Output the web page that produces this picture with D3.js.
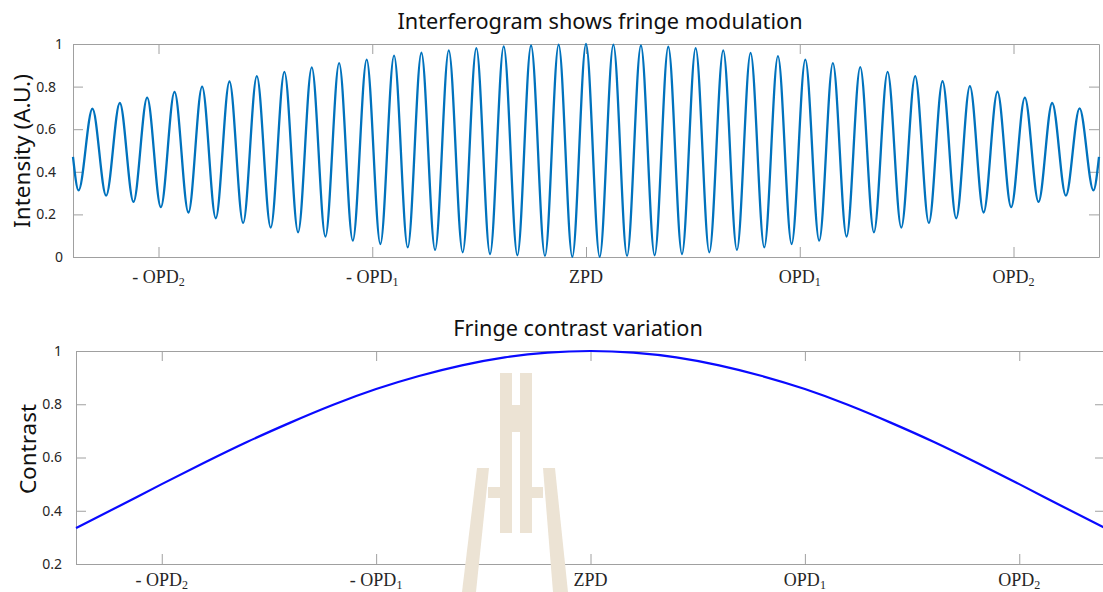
<!DOCTYPE html>
<html>
<head>
<meta charset="utf-8">
<script src="https://cdn.jsdelivr.net/npm/d3@7"></script>
<style>
  html, body { margin: 0; padding: 0; background: #fff; }
  svg { display: block; }
</style>
</head>
<body>
<svg id="chart" width="1103" height="592"></svg>
<script>
// ---------------- data ----------------
// x axis in OPD units: ZPD = 0, OPD1 = 1, OPD2 = 2
const xTickValues = [-2, -1, 0, 1, 2];
const xTickMain = ["- OPD", "- OPD", "ZPD", "OPD", "OPD"];
const xTickSub = ["2", "1", "", "1", "2"];

const topYTicks = [0, 0.2, 0.4, 0.6, 0.8, 1];
const bottomYTicks = [0.2, 0.4, 0.6, 0.8, 1];

// interferogram: fringe maxima
const peakX = [-2.309,-2.181,-2.053,-1.925,-1.796,-1.668,-1.540,-1.411,-1.283,-1.155,-1.026,-0.898,-0.770,-0.642,-0.513,-0.385,-0.257,-0.128,0,
               0.128,0.257,0.385,0.513,0.642,0.770,0.898,1.026,1.155,1.283,1.411,1.540,1.668,1.796,1.925,2.053,2.181,2.309];
const peakY = [0.696,0.723,0.748,0.775,0.800,0.824,0.849,0.869,0.890,0.910,0.927,0.945,0.959,0.970,0.981,0.989,0.993,0.997,1.000,
               0.997,0.993,0.987,0.981,0.970,0.958,0.943,0.927,0.910,0.891,0.869,0.849,0.825,0.802,0.776,0.748,0.723,0.698];
// interferogram: fringe minima
const troughX = [-2.374,-2.245,-2.117,-1.989,-1.860,-1.732,-1.604,-1.475,-1.347,-1.219,-1.091,-0.962,-0.834,-0.706,-0.577,-0.449,-0.321,-0.192,-0.064,
                 0.064,0.192,0.321,0.449,0.577,0.706,0.834,0.962,1.091,1.219,1.347,1.475,1.604,1.732,1.860,1.989,2.117,2.245,2.374];
const troughY = [0.313,0.288,0.259,0.234,0.209,0.182,0.160,0.138,0.116,0.096,0.077,0.061,0.045,0.033,0.022,0.014,0.008,0.005,0.001,
                 0.001,0.005,0.008,0.014,0.022,0.033,0.045,0.061,0.077,0.096,0.116,0.138,0.160,0.182,0.209,0.234,0.259,0.288,0.313];
// interferogram values at the two plot edges
const edgeX = [-2.4, 2.4];
const edgeY = [0.47, 0.47];

// fringe contrast
const contrastX = [-2.4,-2.2,-2.0,-1.8,-1.6,-1.4,-1.2,-1.0,-0.8,-0.6,-0.4,-0.2,0,0.2,0.4,0.6,0.8,1.0,1.2,1.4,1.6,1.8,2.0,2.2,2.4];
const contrastY = [0.335,0.417,0.500,0.581,0.659,0.731,0.798,0.857,0.906,0.946,0.976,0.994,1.0,
                   0.994,0.976,0.946,0.906,0.857,0.798,0.731,0.659,0.581,0.500,0.417,0.335];

// ---------------- drawing ----------------
const svg = d3.select("#chart");
const AXIS_COLOR = "#a0a0a0";
const TEXT_COLOR = "#262626";
const SANS = "'Noto Sans', 'Open Sans', sans-serif";
const SERIF = "'Liberation Serif', 'DejaVu Serif', serif";

function panel(cfg) {
  const x = d3.scaleLinear().domain([-2.4, 2.4]).range([cfg.left, cfg.right]);
  const y = d3.scaleLinear().domain(cfg.yDomain).range([cfg.bottom, cfg.top]);
  const g = svg.append("g");

  const axStyle = sel => {
    sel.selectAll(".domain").attr("stroke", AXIS_COLOR);
    sel.selectAll(".tick line").attr("stroke", AXIS_COLOR);
    sel.selectAll(".tick text").remove();
  };
  g.append("g").attr("transform", `translate(0,${cfg.bottom})`)
    .call(d3.axisBottom(x).tickValues(xTickValues).tickSizeInner(-10).tickSizeOuter(0)).call(axStyle);
  g.append("g").attr("transform", `translate(0,${cfg.top})`)
    .call(d3.axisTop(x).tickValues(xTickValues).tickSizeInner(-10).tickSizeOuter(0)).call(axStyle);
  g.append("g").attr("transform", `translate(${cfg.left},0)`)
    .call(d3.axisLeft(y).tickValues(cfg.yTicks).tickSizeInner(-10).tickSizeOuter(0)).call(axStyle);
  g.append("g").attr("transform", `translate(${cfg.right},0)`)
    .call(d3.axisRight(y).tickValues(cfg.yTicks).tickSizeInner(-10).tickSizeOuter(0)).call(axStyle);

  g.append("g").selectAll("text").data(cfg.yTicks).join("text")
    .attr("x", d => cfg.yLabelX(d))
    .attr("y", d => y(d))
    .attr("dy", "0.35em")
    .attr("text-anchor", "end")
    .attr("font-family", SANS).attr("font-size", 14).attr("fill", TEXT_COLOR)
    .text(d => d3.format("~g")(d));

  const xl = g.append("g").selectAll("text").data(xTickValues).join("text")
    .attr("x", d => x(d))
    .attr("y", cfg.bottom + cfg.xLabelOffset)
    .attr("text-anchor", "middle")
    .attr("font-family", SERIF).attr("font-size", 18).attr("fill", TEXT_COLOR);
  xl.append("tspan").text((d, i) => xTickMain[i]);
  xl.append("tspan").attr("font-size", 12).attr("dy", 3).text((d, i) => xTickSub[i]);

  g.append("text").attr("x", cfg.titleX).attr("y", cfg.titleY)
    .attr("text-anchor", "middle").attr("font-family", SANS)
    .attr("font-size", 21.7).attr("fill", "#111").text(cfg.title);
  g.append("text")
    .attr("transform", `translate(${cfg.yTitleX},${cfg.yTitleY}) rotate(-90)`)
    .attr("text-anchor", "middle").attr("font-family", SANS)
    .attr("font-size", 22.5).attr("fill", "#111").text(cfg.yTitle);

  return { g, x, y };
}

// ---- top panel: interferogram
const topPanel = panel({
  left: 73, right: 1099, top: 44, bottom: 257,
  yDomain: [0, 1], yTicks: topYTicks,
  yLabelX: d => (d === 0 || d === 1) ? 63 : 56,
  xLabelOffset: 26,
  title: "Interferogram shows fringe modulation", titleX: 600, titleY: 29,
  yTitle: "Intensity (A.U.)", yTitleX: 30, yTitleY: 151
});
const fringePts = []
  .concat(peakX.map((v, i) => [v, peakY[i]]))
  .concat(troughX.map((v, i) => [v, troughY[i]]))
  .concat(edgeX.map((v, i) => [v, edgeY[i]]))
  .sort((a, b) => a[0] - b[0]);
topPanel.g.append("path")
  .datum(fringePts)
  .attr("fill", "none")
  .attr("stroke", "#0072BD")
  .attr("stroke-width", 2.3)
  .attr("stroke-linejoin", "round")
  .attr("d", d3.line().x(d => topPanel.x(d[0])).y(d => topPanel.y(d[1])).curve(d3.curveMonotoneX));

// ---- bottom panel: contrast
const botPanel = panel({
  left: 76, right: 1105, top: 351, bottom: 564,
  yDomain: [0.2, 1], yTicks: bottomYTicks,
  yLabelX: d => 62,
  xLabelOffset: 22,
  title: "Fringe contrast variation", titleX: 578, titleY: 336,
  yTitle: "Contrast", yTitleX: 36, yTitleY: 449
});

// faint watermark over the lower panel (as in the reference)
const wm = svg.append("g").attr("fill", "#ece3d4");
const wmShapes = [
  [[500,373],[512,373],[512,533],[500,533]],
  [[520,373],[532,373],[532,533],[520,533]],
  [[512,405],[520,405],[520,432],[512,432]],
  [[477,468],[489,468],[476,592],[462,592]],
  [[488,487],[500,487],[500,498],[488,498]],
  [[543,468],[555,468],[568,592],[553,592]],
  [[532,487],[543,487],[543,498],[532,498]]
];
wm.selectAll("polygon").data(wmShapes).join("polygon")
  .attr("points", d => d.map(p => p.join(",")).join(" "));

botPanel.g.append("path")
  .datum(contrastX.map((v, i) => [v, contrastY[i]]))
  .attr("fill", "none")
  .attr("stroke", "#0a0aff")
  .attr("stroke-width", 2.2)
  .attr("d", d3.line().x(d => botPanel.x(d[0])).y(d => botPanel.y(d[1])).curve(d3.curveNatural));
</script>
</body>
</html>
